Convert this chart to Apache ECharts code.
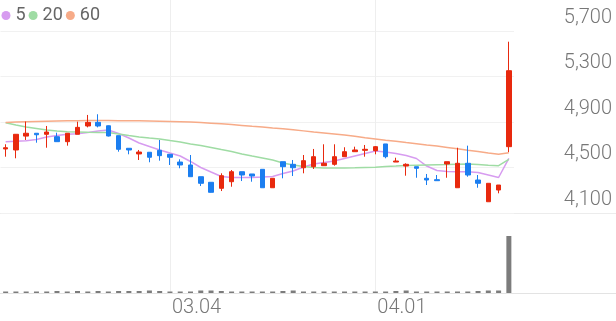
<!DOCTYPE html>
<html><head><meta charset="utf-8">
<script src="https://cdn.jsdelivr.net/npm/echarts@6/dist/echarts.min.js"></script>
<style>html,body{margin:0;padding:0;background:#fff}#c{width:616px;height:321px}</style>
</head><body><div id="c"></div>
<script>
const dates = ['02.06','02.07','02.08','02.13','02.14','02.15','02.16','02.19','02.20','02.21',
  '02.22','02.23','02.26','02.27','02.28','02.29','03.04','03.05','03.06','03.07',
  '03.08','03.11','03.12','03.13','03.14','03.15','03.18','03.19','03.20','03.21',
  '03.22','03.25','03.26','03.27','03.28','03.29','04.01','04.02','04.03','04.04',
  '04.05','04.08','04.09','04.11','04.12','04.15','04.16','04.17','04.18','04.19'];
const opens  = [4663,4654,4776,4801,4792,4771,4727,4792,4865,4897,4867,4780,4669,4619,4634,4651,4616,4548,4522,4419,
  4370,4317,4375,4463,4443,4484,4322,4551,4528,4498,4507,4516,4528,4595,4639,4651,4648,4707,4548,4513,
  4507,4405,4393,4531,4322,4537,4390,4199,4302,4683];
const highs  = [4704,4794,4904,4801,4865,4806,4801,4903,4962,4968,4870,4780,4669,4654,4634,4742,4616,4572,4610,4419,
  4370,4449,4478,4463,4443,4484,4405,4551,4566,4610,4663,4704,4704,4678,4683,4698,4689,4707,4586,4537,
  4507,4443,4434,4551,4674,4692,4434,4361,4346,5606];
const lows   = [4595,4581,4742,4718,4674,4727,4692,4792,4853,4853,4773,4639,4616,4566,4546,4560,4522,4493,4419,4337,
  4280,4293,4331,4381,4375,4322,4322,4405,4425,4449,4487,4516,4516,4595,4639,4595,4616,4581,4548,4428,
  4410,4346,4384,4410,4322,4419,4322,4199,4273,4636];
const closes = [4674,4792,4801,4788,4812,4727,4801,4853,4897,4865,4777,4660,4654,4636,4590,4604,4590,4522,4419,4361,
  4282,4428,4463,4434,4425,4322,4405,4507,4498,4560,4595,4537,4595,4639,4654,4660,4683,4595,4557,4528,
  4493,4390,4384,4551,4537,4434,4361,4361,4346,5351];
const volumes = [150,150,150,150,150,200,150,200,150,200,150,200,200,200,250,200,150,150,150,250,
  250,200,150,150,150,150,150,200,250,150,150,150,150,150,150,150,150,150,200,250,
  150,150,150,150,150,150,200,250,250,5700];
const ma5  = [4727,4730,4736,4746,4768,4781,4792,4797,4808,4821,4830,4799,4759,4715,4685,4654,4627,4601,4553,4500,
  4460,4421,4412,4412,4412,4416,4421,4447,4469,4504,4531,4544,4557,4579,4601,4623,4645,4636,4623,4605,
  4579,4513,4474,4465,4463,4463,4456,4434,4412,4581];
const ma20 = [4894,4874,4856,4843,4830,4821,4815,4812,4809,4808,4808,4795,4781,4768,4759,4751,4737,4724,4707,4693,
  4676,4658,4641,4619,4601,4584,4566,4540,4522,4509,4500,4496,4496,4496,4497,4500,4502,4509,4513,4518,
  4520,4522,4524,4526,4529,4531,4526,4519,4516,4572];
const ma60 = [4896,4899,4902,4905,4907,4909,4911,4912,4913,4913,4913,4912,4911,4910,4908,4906,4904,4902,4899,4895,
  4890,4885,4878,4870,4862,4855,4847,4840,4832,4822,4812,4803,4794,4785,4774,4762,4751,4740,4730,4719,
  4709,4698,4688,4676,4664,4652,4641,4628,4617,4630];
const maNames = ['5','20','60'];
const maColors = ['#d79cf0','#9fdca4','#f7ab88'];
const priceMin = 4100, priceStep = 400, priceTop = 5972.5;

const candleData = dates.map((d, i) => [opens[i], closes[i], lows[i], highs[i]]);
const isMonthStart = (i) => i > 0 && dates[i].slice(0, 2) !== dates[i - 1].slice(0, 2);

const chart = echarts.init(document.getElementById('c'), null, {renderer: 'canvas'});
const FONT = 'Roboto, "Noto Sans", sans-serif';
chart.setOption({
  animation: false,
  backgroundColor: '#fff',
  textStyle: {fontFamily: FONT},
  legend: {
    left: 1.5, top: 6.5, padding: 0, icon: 'circle', itemWidth: 9, itemHeight: 9, itemGap: 3,
    data: maNames, selectedMode: false,
    textStyle: {fontSize: 18, color: '#666', fontFamily: FONT}
  },
  grid: [
    {left: 0.5, right: 102, top: 0, height: 213},
    {left: 0.5, right: 102, top: 213, height: 80}
  ],
  xAxis: [
    {type: 'category', gridIndex: 0, data: dates, boundaryGap: true,
     axisLine: {show: false}, axisTick: {show: false}, axisLabel: {show: false},
     splitLine: {show: true, interval: (i) => isMonthStart(i), alignWithLabel: true, lineStyle: {color: '#eeeeee', width: 1}}},
    {type: 'category', gridIndex: 1, data: dates, boundaryGap: true,
     axisLine: {show: true, lineStyle: {color: '#e3e3e3'}}, axisTick: {show: false},
     axisLabel: {show: true, interval: (i) => isMonthStart(i), align: 'left', margin: 5, fontSize: 20, fontWeight: 300, color: '#777', fontFamily: FONT, padding: [0, 0, 0, 2]},
     splitLine: {show: true, interval: (i) => isMonthStart(i), alignWithLabel: true, lineStyle: {color: '#eeeeee', width: 1}}}
  ],
  yAxis: [
    {type: 'value', gridIndex: 0, position: 'right', min: priceMin, max: priceTop, interval: priceStep,
     axisLine: {show: false}, axisTick: {show: false},
     axisLabel: {showMaxLabel: false, align: 'right', margin: 98, verticalAlign: 'bottom', padding: [0, 0, 3, 0],
       fontSize: 20, fontWeight: 300, color: '#777', fontFamily: FONT,
       formatter: (v) => v.toLocaleString('en-US')},
     splitLine: {show: true, showMaxLine: false, lineStyle: {color: '#f1f1f1', width: 1}}},
    {type: 'value', gridIndex: 1, min: 0, max: 8000,
     axisLine: {show: false}, axisTick: {show: false}, axisLabel: {show: false}, splitLine: {show: false}}
  ],
  graphic: [
    {type: 'line', shape: {x1: 0, y1: 213.5, x2: 616, y2: 213.5}, style: {stroke: '#ececec', lineWidth: 1}, z: 0},
    {type: 'line', shape: {x1: 0, y1: 293.5, x2: 616, y2: 293.5}, style: {stroke: '#e3e3e3', lineWidth: 1}, z: 0}
  ],
  series: [
    ...[ma5, ma20, ma60].map((arr, k) => ({
      name: maNames[k], type: 'line', xAxisIndex: 0, yAxisIndex: 0, data: arr,
      showSymbol: false, symbol: 'none', smooth: false, color: maColors[k],
      lineStyle: {width: 1.5, color: maColors[k]}, z: 2
    })),
    {type: 'candlestick', xAxisIndex: 0, yAxisIndex: 0, data: candleData, barWidth: 5, z: 3,
     itemStyle: {color: '#e8290e', color0: '#1b7ef0', borderColor: '#e8290e', borderColor0: '#1b7ef0', borderWidth: 1}},
    {type: 'bar', xAxisIndex: 1, yAxisIndex: 1, data: volumes, barWidth: 5, itemStyle: {color: '#7c7c7c'}, z: 3}
  ]
});
</script>
</body></html>
